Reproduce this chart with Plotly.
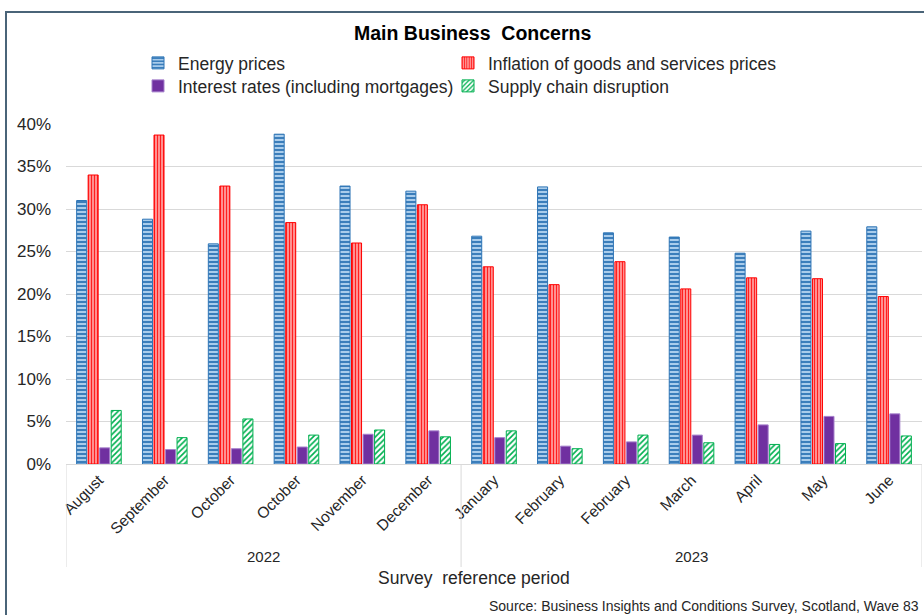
import plotly.graph_objects as go

# Survey waves (month labels) and the year each wave belongs to
months = ["August", "September", "October", "October", "November", "December",
          "January", "February", "February", "March", "April", "May", "June"]
years = ["2022", "2023"]
wave_year = ["2022"] * 6 + ["2023"] * 7

# Share of businesses citing each concern (%)
energy = [31.0, 28.8, 25.9, 38.8, 32.7, 32.1, 26.8, 32.6, 27.2, 26.7, 24.8, 27.4, 27.9]
inflation = [34.0, 38.7, 32.7, 28.4, 26.0, 30.5, 23.2, 21.1, 23.8, 20.6, 21.9, 21.8, 19.7]
interest = [1.9, 1.7, 1.8, 2.0, 3.5, 3.9, 3.1, 2.1, 2.6, 3.4, 4.6, 5.6, 5.9]
supply = [6.3, 3.1, 5.3, 3.4, 4.0, 3.2, 3.9, 1.8, 3.4, 2.5, 2.3, 2.4, 3.3]

FONT = "Liberation Sans, Arial, sans-serif"
TXT = "#262626"
W, H = 924, 615
L, R, T, B = 66, 2, 124, 151
PW, PH = W - L - R, H - T - B


def px_x(px):
    return (px - L) / PW


def px_y(py):
    return (H - B - py) / PH


xs = list(range(len(months)))

fig = go.Figure()
fig.add_bar(
    x=xs, y=energy, name="Energy prices", legend="legend",
    marker=dict(color="#9DC3E6", line=dict(color="#2E75B6", width=1),
                pattern=dict(shape="-", fgcolor="#2E75B6", bgcolor="#A9CCEB",
                             size=4, solidity=0.45, fillmode="replace")),
)
fig.add_bar(
    x=xs, y=inflation, name="Inflation of goods and services prices", legend="legend2",
    marker=dict(color="#FF6666", line=dict(color="#FF0000", width=1),
                pattern=dict(shape="|", fgcolor="#FF2020", bgcolor="#FFA8A8",
                             size=3, solidity=0.45, fillmode="replace")),
)
fig.add_bar(
    x=xs, y=interest, name="Interest rates (including mortgages)", legend="legend3",
    marker=dict(color="#7030A0", line=dict(color="#A680CC", width=1)),
)
fig.add_bar(
    x=xs, y=supply, name="Supply chain disruption", legend="legend4",
    marker=dict(color="#00B050", line=dict(color="#00B050", width=1),
                pattern=dict(shape="/", fgcolor="#00B050", bgcolor="#FFFFFF",
                             size=4, solidity=0.4, fillmode="replace")),
)

# Year group labels and separators under the month labels
shapes = []
annotations = []
bounds = [-0.5]
for yr in years:
    idx = [i for i, y in enumerate(wave_year) if y == yr]
    bounds.append(idx[-1] + 0.5)
    annotations.append(dict(
        x=(idx[0] + idx[-1]) / 2, xref="x", y=px_y(556), yref="paper", yanchor="middle",
        text=yr, showarrow=False, font=dict(family=FONT, size=15, color=TXT),
    ))
for b in bounds:
    shapes.append(dict(type="line", xref="x", yref="paper", x0=b, x1=b,
                       y0=0, y1=px_y(567), line=dict(color="#D9D9D9", width=1)))

# Outer frame of the chart area
shapes.append(dict(type="rect", xref="paper", yref="paper",
                   x0=px_x(6), x1=px_x(940), y0=px_y(640), y1=px_y(12),
                   line=dict(color="#4A6478", width=2), layer="above"))

annotations += [
    dict(x=px_x(472), y=px_y(33), xref="paper", yref="paper", yanchor="middle",
         text="<b>Main Business\u00a0 Concerns</b>", showarrow=False,
         font=dict(family=FONT, size=19.5, color="#000000")),
    dict(x=px_x(474), y=px_y(578), xref="paper", yref="paper", yanchor="middle",
         text="Survey\u00a0 reference period", showarrow=False,
         font=dict(family=FONT, size=17.5, color=TXT)),
    dict(x=px_x(921), y=px_y(606), xref="paper", yref="paper", xanchor="right",
         yanchor="middle",
         text="Source: Business Insights and Conditions Survey, Scotland, Wave 83",
         showarrow=False, font=dict(family=FONT, size=14, color=TXT)),
]

legend_style = dict(orientation="v", yanchor="middle", xanchor="left",
                    bgcolor="rgba(0,0,0,0)", font=dict(family=FONT, size=17.5, color=TXT),
                    itemwidth=30)

fig.update_layout(
    width=W, height=H,
    margin=dict(l=L, r=R, t=T, b=B, pad=0),
    paper_bgcolor="white", plot_bgcolor="white",
    barmode="group", bargap=0.3, bargroupgap=0.13,
    font=dict(family=FONT, color=TXT),
    showlegend=True,
    legend=dict(x=px_x(138), y=px_y(63), **legend_style),
    legend2=dict(x=px_x(448), y=px_y(63), **legend_style),
    legend3=dict(x=px_x(138), y=px_y(86), **legend_style),
    legend4=dict(x=px_x(448), y=px_y(86), **legend_style),
    xaxis=dict(
        range=[-0.5, len(months) - 0.5], tickmode="array", tickvals=xs,
        ticktext=months, tickangle=-45, showgrid=False,
        showline=True, linecolor="#D9D9D9", linewidth=1, ticks="",
        tickfont=dict(family=FONT, size=15.5, color=TXT), zeroline=False,
    ),
    yaxis=dict(
        range=[0, 40], dtick=5, ticksuffix="%", showgrid=True,
        gridcolor="#D9D9D9", gridwidth=1, zeroline=False, showline=False,
        ticks="", ticklabelstandoff=14,
        tickfont=dict(family=FONT, size=17, color=TXT),
    ),
    shapes=shapes,
    annotations=annotations,
)

fig.write_html("out.html")
